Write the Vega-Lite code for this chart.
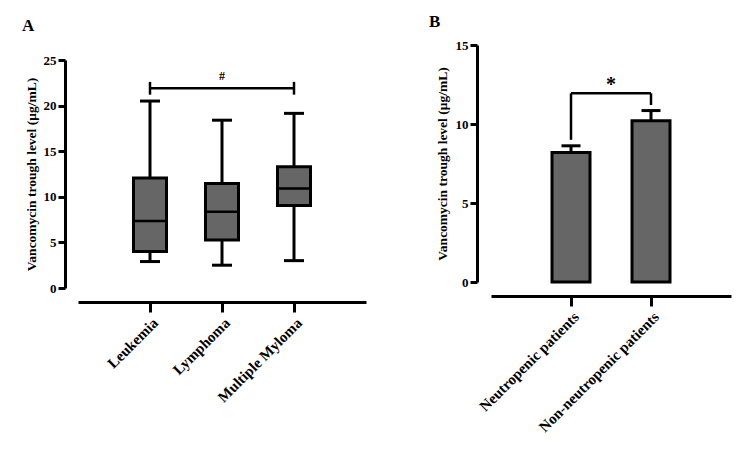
{
  "$schema": "https://vega.github.io/schema/vega-lite/v6.json",
  "autosize": {"type": "pad"},
  "padding": {"left": 22, "top": 13, "right": 5, "bottom": 5},
  "background": "white",
  "config": {
    "font": "Liberation Serif",
    "view": {"stroke": null},
    "axis": {
      "grid": false,
      "domainColor": "black",
      "domainWidth": 3,
      "tickColor": "black",
      "tickWidth": 3,
      "labelColor": "black",
      "labelFont": "Liberation Serif",
      "labelFontWeight": "bold",
      "labelFontSize": 13,
      "titleFont": "Liberation Serif",
      "titleFontWeight": "bold",
      "titleFontSize": 13.5,
      "titleColor": "black"
    },
    "title": {"font": "Liberation Serif", "fontSize": 17, "fontWeight": "bold", "anchor": "start", "color": "black", "baseline": "bottom"}
  },
  "datasets": {
    "boxes": [
      {"group": "Leukemia", "min": 2.9, "q1": 4.0, "median": 7.35, "q3": 12.05, "max": 20.5},
      {"group": "Lymphoma", "min": 2.5, "q1": 5.25, "median": 8.35, "q3": 11.45, "max": 18.4},
      {"group": "Multiple Myloma", "min": 3.0, "q1": 9.05, "median": 10.9, "q3": 13.3, "max": 19.15}
    ],
    "bracketA_h": [
      {"from": "Leukemia", "to": "Multiple Myloma", "level": 21.9}
    ],
    "bracketA_v": [
      {"group": "Leukemia", "low": 21.2, "high": 22.6},
      {"group": "Multiple Myloma", "low": 21.2, "high": 22.6}
    ],
    "labelA": [
      {"group": "Lymphoma", "level": 23.2, "label": "#"}
    ],
    "bars": [
      {"group": "Neutropenic patients", "mean": 8.2, "upper": 8.62},
      {"group": "Non-neutropenic patients", "mean": 10.2, "upper": 10.85}
    ],
    "bracketB_h": [
      {"from": "Neutropenic patients", "to": "Non-neutropenic patients", "level": 11.94}
    ],
    "bracketB_v": [
      {"group": "Neutropenic patients", "low": 9.0, "high": 11.94},
      {"group": "Non-neutropenic patients", "low": 11.2, "high": 11.94}
    ],
    "labelB": [
      {"group": "Neutropenic patients", "level": 12.5, "label": "*"}
    ]
  },
  "spacing": 63,
  "hconcat": [
    {
      "bounds": "flush",
      "spacing": 0,
      "vconcat": [
        {
          "width": 288,
          "height": 15,
          "title": {"text": "A", "dx": -56, "offset": 10},
          "data": {"values": [{"k": 1}]},
          "mark": {"type": "point", "opacity": 0},
          "encoding": {}
        },
        {
          "width": 288,
          "height": 228,
          "layer": [
            {
              "data": {"name": "boxes"},
              "mark": {"type": "rule", "color": "black", "strokeWidth": 3},
              "encoding": {
                "x": {"field": "group", "type": "nominal"},
                "y": {"field": "min", "type": "quantitative"},
                "y2": {"field": "max"}
              }
            },
            {
              "data": {"name": "boxes"},
              "mark": {"type": "bar", "size": 33, "fill": "#666666", "stroke": "black", "strokeWidth": 3},
              "encoding": {
                "x": {"field": "group", "type": "nominal"},
                "y": {"field": "q1", "type": "quantitative"},
                "y2": {"field": "q3"}
              }
            },
            {
              "data": {"name": "boxes"},
              "mark": {"type": "tick", "size": 33, "thickness": 2.5, "color": "black", "opacity": 1},
              "encoding": {
                "x": {"field": "group", "type": "nominal"},
                "y": {"field": "median", "type": "quantitative"}
              }
            },
            {
              "data": {"name": "boxes"},
              "mark": {"type": "tick", "size": 20, "thickness": 3, "color": "black", "opacity": 1},
              "encoding": {
                "x": {"field": "group", "type": "nominal"},
                "y": {"field": "min", "type": "quantitative"}
              }
            },
            {
              "data": {"name": "boxes"},
              "mark": {"type": "tick", "size": 20, "thickness": 3, "color": "black", "opacity": 1},
              "encoding": {
                "x": {"field": "group", "type": "nominal"},
                "y": {"field": "max", "type": "quantitative"}
              }
            },
            {
              "data": {"name": "bracketA_h"},
              "mark": {"type": "rule", "color": "black", "strokeWidth": 2.5},
              "encoding": {
                "x": {"field": "from", "type": "nominal"},
                "x2": {"field": "to"},
                "y": {"field": "level", "type": "quantitative"}
              }
            },
            {
              "data": {"name": "bracketA_v"},
              "mark": {"type": "rule", "color": "black", "strokeWidth": 2.5},
              "encoding": {
                "x": {"field": "group", "type": "nominal"},
                "y": {"field": "low", "type": "quantitative"},
                "y2": {"field": "high"}
              }
            },
            {
              "data": {"name": "labelA"},
              "mark": {"type": "text", "fontSize": 12, "fontWeight": "bold", "color": "black", "baseline": "middle"},
              "encoding": {
                "x": {"field": "group", "type": "nominal"},
                "y": {"field": "level", "type": "quantitative"},
                "text": {"field": "label"}
              }
            }
          ],
          "encoding": {
            "x": {
              "field": "group",
              "type": "nominal",
              "scale": {"type": "point", "padding": 1, "domain": ["Leukemia", "Lymphoma", "Multiple Myloma"]},
              "axis": {"title": null, "labelAngle": -45, "labelAlign": "right", "labelBaseline": "top", "labelFontSize": 15, "tickSize": 10, "offset": 14, "labelPadding": 3}
            },
            "y": {
              "type": "quantitative",
              "scale": {"domain": [0, 25], "nice": false, "zero": true},
              "axis": {"title": "Vancomycin trough level (μg/mL)", "values": [0, 5, 10, 15, 20, 25], "tickSize": 7, "offset": 13, "labelPadding": 2, "titlePadding": 5}
            }
          }
        }
      ]
    },
    {
      "width": 240,
      "height": 237,
      "title": {"text": "B", "dx": -6, "offset": 8},
      "layer": [
        {
          "data": {"name": "bars"},
          "mark": {"type": "rule", "color": "black", "strokeWidth": 3},
          "encoding": {
            "x": {"field": "group", "type": "nominal"},
            "y": {"field": "mean", "type": "quantitative"},
            "y2": {"field": "upper"}
          }
        },
        {
          "data": {"name": "bars"},
          "mark": {"type": "bar", "size": 38, "fill": "#666666", "stroke": "black", "strokeWidth": 3},
          "encoding": {
            "x": {"field": "group", "type": "nominal"},
            "y": {"field": "mean", "type": "quantitative"}
          }
        },
        {
          "data": {"name": "bars"},
          "mark": {"type": "tick", "size": 19, "thickness": 3, "color": "black", "opacity": 1},
          "encoding": {
            "x": {"field": "group", "type": "nominal"},
            "y": {"field": "upper", "type": "quantitative"}
          }
        },
        {
          "data": {"name": "bracketB_h"},
          "mark": {"type": "rule", "color": "black", "strokeWidth": 2.5},
          "encoding": {
            "x": {"field": "from", "type": "nominal"},
            "x2": {"field": "to"},
            "y": {"field": "level", "type": "quantitative"}
          }
        },
        {
          "data": {"name": "bracketB_v"},
          "mark": {"type": "rule", "color": "black", "strokeWidth": 2.5},
          "encoding": {
            "x": {"field": "group", "type": "nominal"},
            "y": {"field": "low", "type": "quantitative"},
            "y2": {"field": "high"}
          }
        },
        {
          "data": {"name": "labelB"},
          "mark": {"type": "text", "fontSize": 20, "fontWeight": "bold", "color": "black", "baseline": "middle", "dx": 40},
          "encoding": {
            "x": {"field": "group", "type": "nominal"},
            "y": {"field": "level", "type": "quantitative"},
            "text": {"field": "label"}
          }
        }
      ],
      "encoding": {
        "x": {
          "field": "group",
          "type": "nominal",
          "scale": {"type": "point", "padding": 1, "domain": ["Neutropenic patients", "Non-neutropenic patients"]},
          "axis": {"title": null, "labelAngle": -45, "labelAlign": "right", "labelBaseline": "top", "labelFontSize": 15, "tickSize": 10, "offset": 14, "labelPadding": 3}
        },
        "y": {
          "type": "quantitative",
          "scale": {"domain": [0, 15], "nice": false, "zero": true},
          "axis": {"title": "Vancomycin trough level (μg/mL)", "values": [0, 5, 10, 15], "tickSize": 7, "offset": 14, "labelPadding": 2, "titlePadding": 6}
        }
      }
    }
  ]
}
